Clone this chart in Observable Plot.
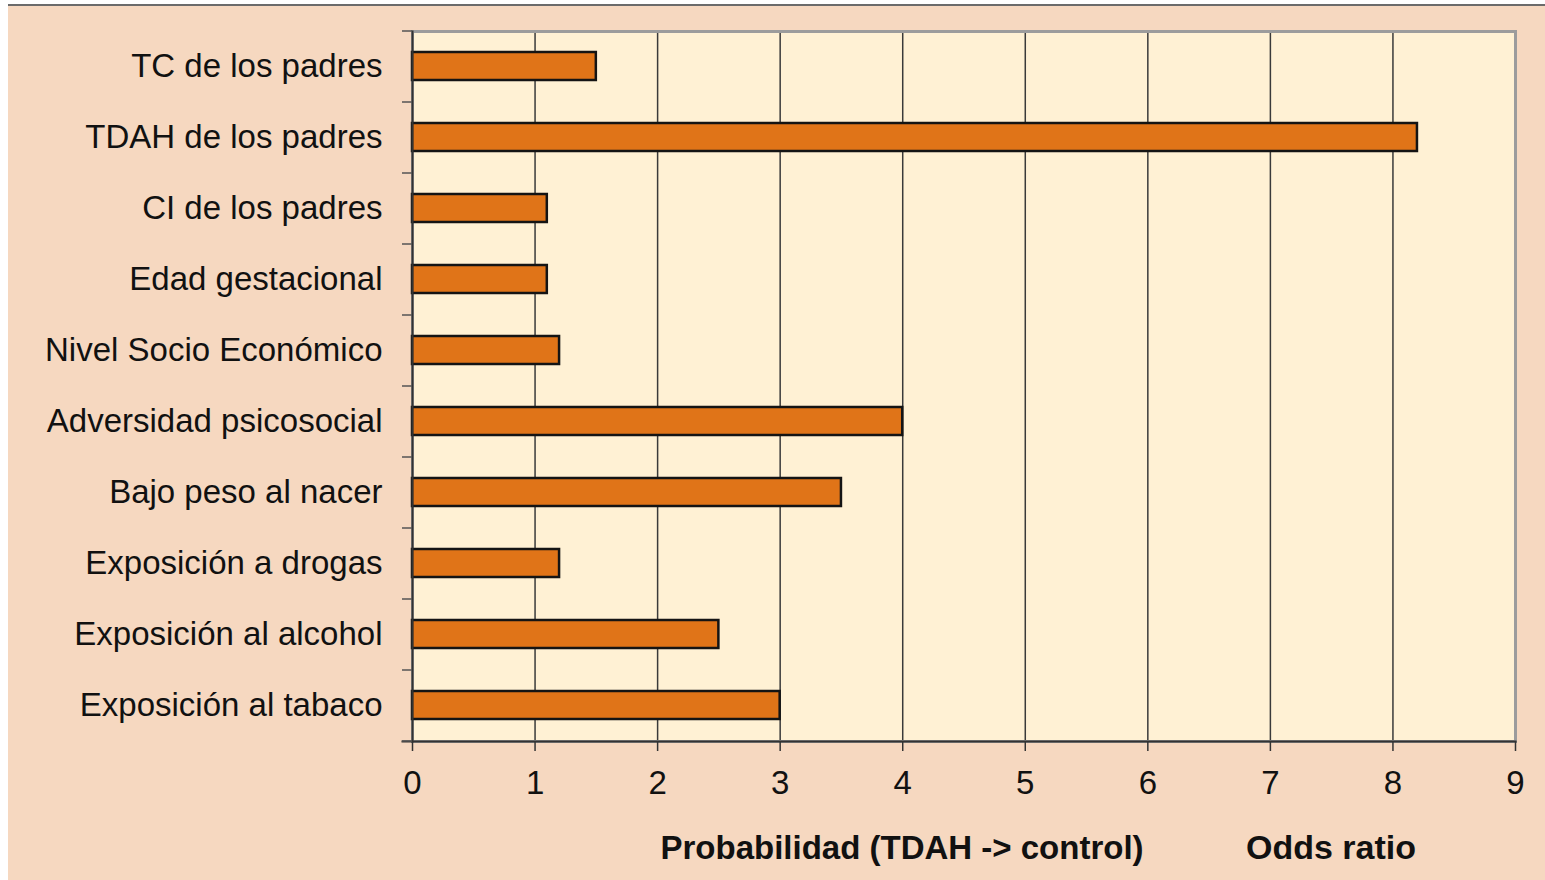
<!DOCTYPE html>
<html>
<head>
<meta charset="utf-8">
<script src="https://cdn.jsdelivr.net/npm/d3@7"></script>
<script src="https://cdn.jsdelivr.net/npm/@observablehq/plot@0.6"></script>
<style>
  html, body { margin: 0; padding: 0; background: #ffffff; }
  #panel {
    position: absolute; left: 8px; top: 4px;
    width: 1537px; height: 876px;
    border-top: 2px solid #6b6b6b;
    background: #F6D8C0;
    overflow: hidden;
  }
  #panel svg { display: block; }
</style>
</head>
<body>
<div id="panel"></div>
<script>
// Risk factors (top to bottom) and their odds ratios
const categories = [
  "TC de los padres",
  "TDAH de los padres",
  "CI de los padres",
  "Edad gestacional",
  "Nivel Socio Económico",
  "Adversidad psicosocial",
  "Bajo peso al nacer",
  "Exposición a drogas",
  "Exposición al alcohol",
  "Exposición al tabaco"
];
const oddsRatios = [1.5, 8.2, 1.1, 1.1, 1.2, 4.0, 3.5, 1.2, 2.5, 3.0];
const xTicks = [0, 1, 2, 3, 4, 5, 6, 7, 8, 9];
const gridTicks = [1, 2, 3, 4, 5, 6, 7, 8];
const titleLeft = "Probabilidad (TDAH -> control)";
const titleRight = "Odds ratio";

const rows = categories.map((c, i) => ({category: c, value: oddsRatios[i]}));

const font = "'Liberation Sans', Arial, sans-serif";
const W = 1537, H = 874;
const mTop = 25, mBottom = 139, mLeft = 404, mRight = 30;
const step = (H - mTop - mBottom) / categories.length;

const chart = Plot.plot({
  width: W,
  height: H,
  marginTop: mTop,
  marginBottom: mBottom,
  marginLeft: mLeft,
  marginRight: mRight,
  style: {background: "transparent", fontFamily: font, fontSize: "33px", color: "#111"},
  x: {domain: [0, 9]},
  y: {domain: categories, paddingInner: 0.6, paddingOuter: 0.3},
  marks: [
    // plot area fill
    Plot.frame({fill: "#FFF1D4", stroke: null}),
    // vertical grid lines
    Plot.gridX(gridTicks, {stroke: "#3a3a3a", strokeOpacity: 1, strokeWidth: 1.5}),
    // light gray border round the plot area
    Plot.frame({stroke: "#9c9c9c", strokeWidth: 3}),
    // bars
    Plot.barX(rows, {x: "value", y: "category", fill: "#E07418", stroke: "#141414", strokeWidth: 2.5}),
    // dark axis lines on the left and bottom
    Plot.frame({anchor: "left", stroke: "#333", strokeWidth: 2}),
    Plot.frame({anchor: "bottom", stroke: "#333", strokeWidth: 2, insetLeft: -10}),
    // x axis
    Plot.axisX({ticks: xTicks, tickSize: 10, tickPadding: 19, stroke: "#333", strokeWidth: 1.5, label: null, fontSize: 33}),
    // category labels
    Plot.axisY({tickSize: 0, tickPadding: 30, label: null, fontSize: 33}),
    // y tick marks at band boundaries
    Plot.axisY({tickSize: 10, tickFormat: () => "", label: null, stroke: "#555", strokeWidth: 1.5, dy: -step / 2}),
    Plot.axisY({ticks: [categories[categories.length - 1]], tickSize: 10, tickFormat: () => "", label: null, stroke: "#555", strokeWidth: 1.5, dy: step / 2}),
    // axis titles
    Plot.text([titleLeft], {frameAnchor: "bottom", text: d => d, dx: -62, dy: 107, fontSize: 33, fontWeight: "bold", fill: "#111", lineAnchor: "middle"}),
    Plot.text([titleRight], {frameAnchor: "bottom", text: d => d, dx: 367, dy: 107, fontSize: 34, fontWeight: "bold", fill: "#111", lineAnchor: "middle"})
  ]
});

document.getElementById("panel").appendChild(chart);
</script>
</body>
</html>
